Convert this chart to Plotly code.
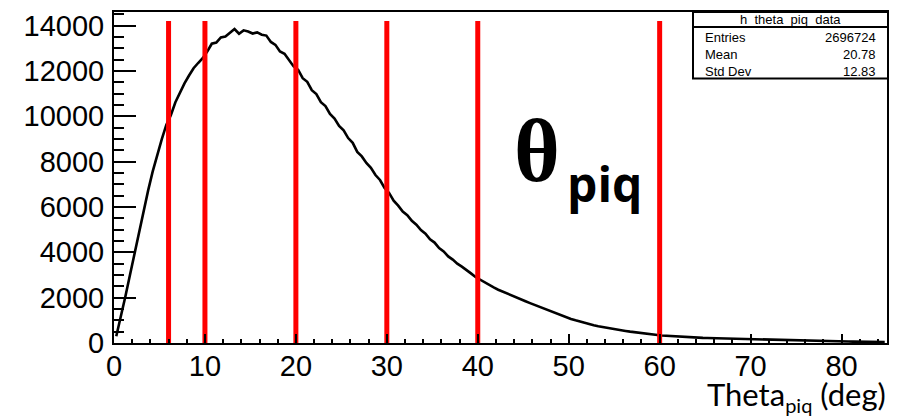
import plotly.graph_objects as go

# Histogram of theta_piq (deg): bin centres every 0.5 deg, counts per bin
bin_centres = [0.25 + 0.5 * i for i in range(170)]
counts = [
    300, 1110, 2050, 2990, 3930, 4950, 5850, 6720, 7560, 8300,
    8980, 9620, 10050, 10620, 11050, 11450, 11800, 12120, 12350, 12560,
    12850, 13200, 13250, 13480, 13520, 13700, 13850, 13640, 13790, 13740,
    13650, 13700, 13600, 13560, 13280, 13150, 12860, 12760, 12500, 12200,
    12050, 11680, 11520, 11150, 10980, 10620, 10450, 10100, 9900, 9570,
    9380, 9040, 8830, 8430, 8230, 7940, 7730, 7410, 7190, 6840,
    6620, 6280, 6060, 5800, 5640, 5390, 5220, 4980, 4820, 4570,
    4430, 4190, 4040, 3820, 3680, 3500, 3370, 3200, 3070, 2910,
    2790, 2670, 2560, 2450, 2350, 2260, 2170, 2090, 2000, 1920,
    1840, 1760, 1680, 1600, 1520, 1440, 1360, 1280, 1200, 1120,
    1060, 1000, 940, 880, 830, 780, 735, 695, 660, 620,
    590, 560, 530, 500, 470, 450, 430, 410, 380, 350,
    330, 315, 300, 290, 275, 265, 255, 245, 235, 225,
    218, 212, 205, 200, 195, 188, 180, 172, 165, 158,
    152, 146, 140, 135, 130, 125, 120, 115, 110, 106,
    102, 98, 94, 90, 86, 82, 79, 76, 73, 70,
    67, 64, 61, 58, 56, 54, 52, 50, 48, 46,
]

# Theta cut boundaries (deg) and the height of the cut markers
cut_edges = [6, 10, 20, 30, 40, 60]
cut_height = 14200

# Statistics box contents
stats_title = "h_theta_piq_data"
stats_labels = ["Entries", "Mean", "Std Dev"]
stats_values = ["2696724", "20.78", "12.83"]

x_ticks = [0, 10, 20, 30, 40, 50, 60, 70, 80]
y_ticks = [0, 2000, 4000, 6000, 8000, 10000, 12000, 14000]

W, H = 910, 417
L, R, T, B = 114, 23, 10, 74
PW, PH = W - L - R, H - T - B


def px(x):
    return (x - L) / PW


def py(y):
    return (H - B - y) / PH


fig = go.Figure()

cut_x, cut_y = [], []
for e in cut_edges:
    cut_x += [e, e, None]
    cut_y += [0, cut_height, None]

fig.add_trace(go.Scatter(
    x=bin_centres, y=counts, mode="lines",
    line=dict(color="black", width=2.6),
    hoverinfo="skip", showlegend=False,
))
fig.add_trace(go.Scatter(
    x=cut_x, y=cut_y, mode="lines",
    line=dict(color="#ff0000", width=5),
    hoverinfo="skip", showlegend=False,
))

tick_font = dict(family="Liberation Sans, Arial, sans-serif", size=29, color="black")

fig.update_xaxes(
    range=[0, 85], tickvals=x_ticks, ticktext=[str(v) for v in x_ticks],
    ticks="inside", ticklen=9, tickwidth=2, tickcolor="black",
    minor=dict(ticks="inside", dtick=2, ticklen=4.5, tickwidth=2, tickcolor="black"),
    showline=True, linecolor="black", linewidth=2, mirror=True,
    showgrid=False, zeroline=False, tickfont=tick_font, ticklabelstandoff=-4,
)
fig.update_yaxes(
    range=[0, 14600], tickvals=y_ticks, ticktext=[str(v) for v in y_ticks],
    ticks="inside", ticklen=22, tickwidth=2, tickcolor="black",
    minor=dict(ticks="inside", dtick=500, ticklen=10, tickwidth=2, tickcolor="black"),
    showline=True, linecolor="black", linewidth=2, mirror=True,
    showgrid=False, zeroline=False, tickfont=tick_font, ticklabelstandoff=2,
)

# Statistics box
bx0, bx1, by0, by1 = 693, 888, 10, 77
fig.add_shape(type="rect", xref="paper", yref="paper",
              x0=px(bx0), x1=px(bx1), y0=py(by1), y1=py(by0),
              fillcolor="white", line=dict(color="black", width=2), layer="above")
fig.add_shape(type="line", xref="paper", yref="paper",
              x0=px(bx0), x1=px(bx1), y0=py(25), y1=py(25),
              line=dict(color="black", width=2), layer="above")

stat_font = dict(family="Liberation Sans, Arial, sans-serif", size=13, color="black")
annotations = [
    dict(text=stats_title, x=px((bx0 + bx1) / 2), y=py(17.5), xanchor="center",
         yanchor="middle", font=stat_font),
]
for i, (lab, val) in enumerate(zip(stats_labels, stats_values)):
    yy = py(35.5 + 17 * i)
    annotations.append(dict(text=lab, x=px(703), y=yy, xanchor="left", yanchor="middle", font=stat_font))
    annotations.append(dict(text=val, x=px(878), y=yy, xanchor="right", yanchor="middle", font=stat_font))

# Large theta_piq label inside the plot
annotations.append(dict(text="<b>θ</b>", x=px(537), y=py(150), xanchor="center", yanchor="middle",
                        font=dict(family="Liberation Serif, serif", size=88, color="black")))
annotations.append(dict(text="<b>piq</b>", x=px(604), y=py(183), xanchor="center", yanchor="middle",
                        font=dict(family="Open Sans, sans-serif", size=48, color="black")))

# Axis title at the bottom right
annotations.append(dict(
    text="Theta<sub><span style='font-size:20px'>piq</span></sub> (deg)",
    x=px(888), y=py(396), xanchor="right", yanchor="middle",
    font=dict(family="Lato, sans-serif", size=31, color="black"),
))

for a in annotations:
    a.update(xref="paper", yref="paper", showarrow=False)

fig.update_layout(
    width=W, height=H,
    margin=dict(l=L, r=R, t=T, b=B),
    paper_bgcolor="white", plot_bgcolor="white",
    annotations=annotations,
    showlegend=False,
)

fig.write_html("out.html")
